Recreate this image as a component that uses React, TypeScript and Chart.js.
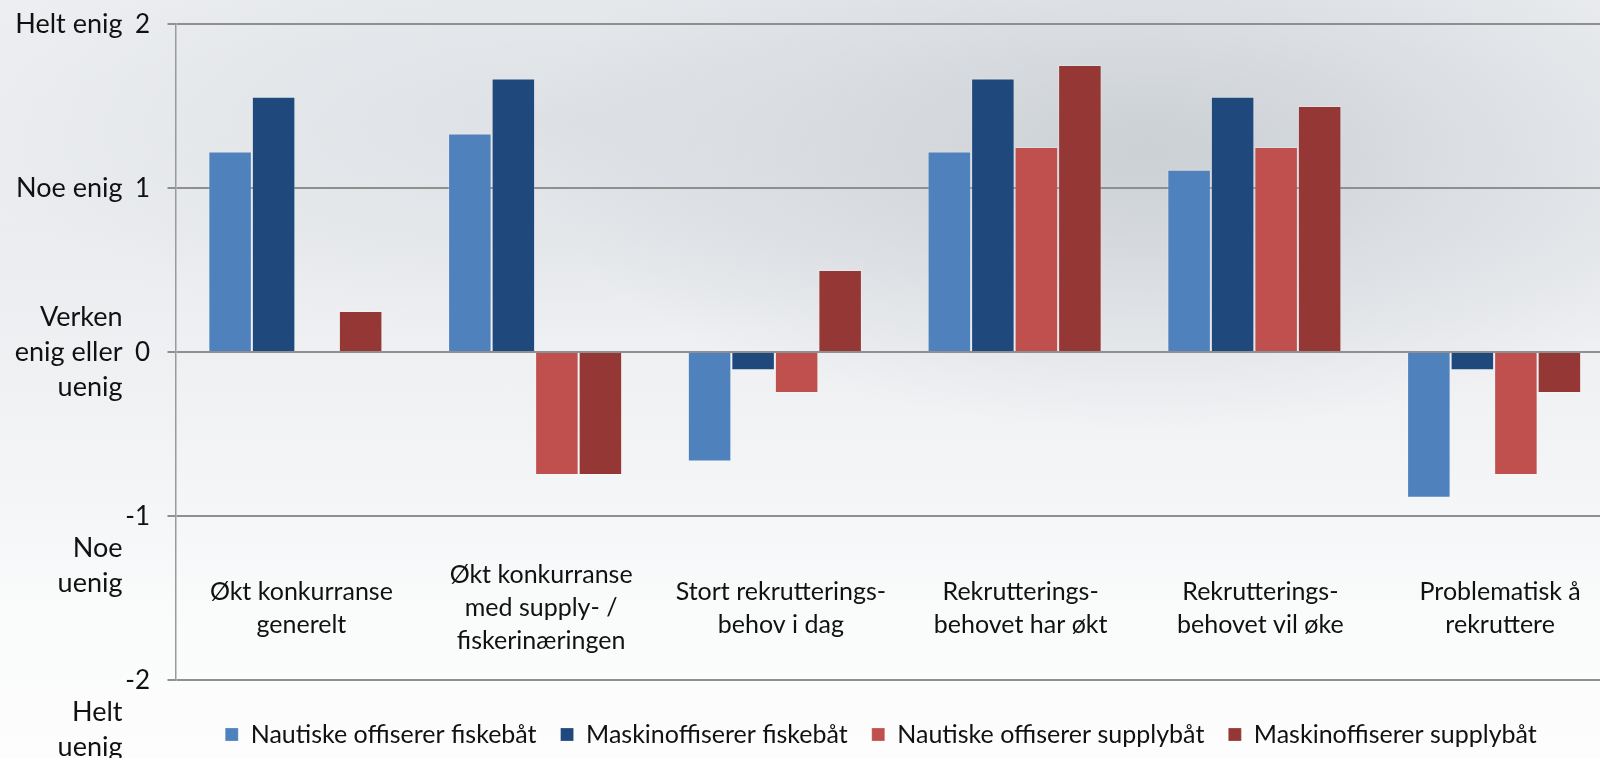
import React, { useEffect, useRef } from "react";
import { Chart, registerables } from "chart.js";

Chart.register(...registerables);

const CATEGORIES: string[][] = [
  ["Økt konkurranse", "generelt"],
  ["Økt konkurranse", "med supply- /", "fiskerinæringen"],
  ["Stort rekrutterings-", "behov i dag"],
  ["Rekrutterings-", "behovet har økt"],
  ["Rekrutterings-", "behovet vil øke"],
  ["Problematisk å", "rekruttere"],
];

const SERIES_NAMES = [
  "Nautiske offiserer fiskebåt",
  "Maskinoffiserer fiskebåt",
  "Nautiske offiserer supplybåt",
  "Maskinoffiserer supplybåt",
];

const NAUTISKE_FISKE = [1.222, 1.333, -0.667, 1.222, 1.111, -0.889];
const MASKIN_FISKE = [1.556, 1.667, -0.111, 1.667, 1.556, -0.111];
const NAUTISKE_SUPPLY = [null, -0.75, -0.25, 1.25, 1.25, -0.75];
const MASKIN_SUPPLY = [0.25, -0.75, 0.5, 1.75, 1.5, -0.25];

const Y_TICKS = [2, 1, 0, -1, -2];
const Y_TICK_LABELS = ["2", "1", "0", "-1", "-2"];
const Y_DESCRIPTIONS: string[][] = [
  ["Helt enig"],
  ["Noe enig"],
  ["Verken", "enig eller", "uenig"],
  ["Noe", "uenig"],
  ["Helt", "uenig"],
];

const COLORS = ["#4F81BD", "#1F497D", "#C0504D", "#953735"];

const FONT = "Lato, 'Open Sans', sans-serif";
const CANVAS_W = 1700;
const CANVAS_H = 758;

const labelPlugin = {
  id: "customLabels",
  afterDraw(chart: any) {
    const ctx = chart.ctx;
    const y = chart.scales.y;
    const x = chart.scales.x;
    const area = chart.chartArea;
    ctx.save();
    ctx.fillStyle = "#111";
    ctx.textBaseline = "middle";
    ctx.textAlign = "right";
    // tick numbers
    ctx.font = `26px ${FONT}`;
    Y_TICKS.forEach((v, i) => {
      ctx.fillText(Y_TICK_LABELS[i], area.left - 25.5, y.getPixelForValue(v) + 1);
    });
    // y descriptions
    ctx.font = `27px ${FONT}`;
    const yLine = 35;
    Y_TICKS.forEach((v, i) => {
      const lines = Y_DESCRIPTIONS[i];
      const py = y.getPixelForValue(v);
      let start: number;
      if (v >= 0) start = py - ((lines.length - 1) * yLine) / 2;
      else start = py + 32;
      lines.forEach((t, j) => ctx.fillText(t, area.left - 53, start + j * yLine));
    });
    // category labels
    ctx.font = `25px ${FONT}`;
    ctx.textAlign = "center";
    const cLine = 33;
    const cy = (y.getPixelForValue(-1) + y.getPixelForValue(-2)) / 2 + 10;
    (chart.data.labels as string[][]).forEach((lines, i) => {
      const px = x.getPixelForValue(i) + 6;
      const start = cy - ((lines.length - 1) * cLine) / 2;
      lines.forEach((t, j) => ctx.fillText(t, px, start + j * cLine));
    });
    ctx.restore();
  },
};

export default function App() {
  const ref = useRef<HTMLCanvasElement | null>(null);
  useEffect(() => {
    if (!ref.current) return;
    const values = [NAUTISKE_FISKE, MASKIN_FISKE, NAUTISKE_SUPPLY, MASKIN_SUPPLY];
    const chart = new Chart(ref.current, {
      type: "bar",
      data: {
        labels: CATEGORIES as any,
        datasets: SERIES_NAMES.map((name, i) => ({
          label: name,
          data: values[i] as any,
          backgroundColor: COLORS[i],
          borderColor: "rgba(255,255,255,0.22)",
          borderWidth: 1,
          categoryPercentage: 0.726,
          barPercentage: 1.0,
        })),
      },
      options: {
        animation: false,
        responsive: false,
        maintainAspectRatio: false,
        layout: { padding: { left: 148, right: CANVAS_W - 1614, top: 24, bottom: 1 } },
        plugins: {
          tooltip: { enabled: false },
          legend: {
            position: "bottom",
            labels: {
              boxWidth: 13,
              boxHeight: 13,
              padding: 24,
              color: "#111",
              font: { family: FONT, size: 25 },
            },
          },
        },
        scales: {
          x: {
            grid: { display: false, drawTicks: false },
            border: { display: false },
            ticks: { display: false },
            afterFit: (s: any) => {
              s.height = 18;
            },
          },
          y: {
            min: -2,
            max: 2,
            afterFit: (s: any) => {
              s.width = 27.5;
            },
            afterBuildTicks: (s: any) => {
              s.ticks = Y_TICKS.slice().reverse().map((v) => ({ value: v }));
            },
            grid: {
              color: "#8f8f8f",
              lineWidth: 2,
              tickLength: 8,
              drawTicks: true,
            },
            border: { display: true, color: "#9a9a9a", width: 1.5 },
            ticks: { display: false },
          },
        },
      },
      plugins: [labelPlugin],
    });
    return () => chart.destroy();
  }, []);

  return (
    <div
      style={{
        position: "fixed",
        left: 0,
        top: 0,
        width: 1600,
        height: 758,
        overflow: "hidden",
        background:
          "radial-gradient(ellipse 620px 280px at 1150px 150px, rgba(203,208,213,1) 0%, rgba(203,208,213,0) 100%)," +
          "radial-gradient(ellipse 600px 220px at 550px 120px, rgba(218,222,226,0.8) 0%, rgba(218,222,226,0) 100%)," +
          "linear-gradient(180deg, #eceef1 0%, #eaecef 30%, #f2f3f5 58%, #fafbfb 82%, #fdfdfd 100%)",
      }}
    >
      <canvas ref={ref} width={CANVAS_W} height={CANVAS_H} style={{ width: CANVAS_W, height: CANVAS_H, display: "block" }} />
    </div>
  );
}
